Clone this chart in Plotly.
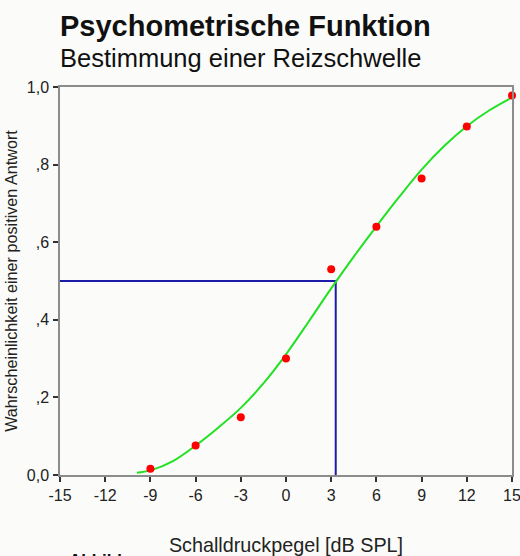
import plotly.graph_objects as go

# Measured data points (Schalldruckpegel in dB SPL vs. probability)
level_db = [-9, -6, -3, 0, 3, 6, 9, 12, 15]
p_response = [0.016, 0.076, 0.149, 0.30, 0.53, 0.64, 0.764, 0.898, 0.978]

# Fitted psychometric curve
curve_x = [-9.9, -9.0, -7.5, -6.0, -4.5, -3.0, -1.5, 0.0, 1.5, 3.0, 4.5, 6.0, 7.5, 9.0, 10.5, 12.0, 13.5, 15.0]
curve_y = [0.006, 0.012, 0.036, 0.076, 0.122, 0.173, 0.236, 0.311, 0.395, 0.481, 0.563, 0.641, 0.716, 0.787, 0.848, 0.899, 0.940, 0.973]

# Threshold (50 % point)
threshold_x = 3.3
threshold_y = 0.5

x_ticks = [-15, -12, -9, -6, -3, 0, 3, 6, 9, 12, 15]
x_tick_labels = ["-15", "-12", "-9", "-6", "-3", "0", "3", "6", "9", "12", "15"]
y_ticks = [0.0, 0.2, 0.4, 0.6, 0.8, 1.0]
y_tick_labels = ["0,0", ",2", ",4", ",6", ",8", "1,0"]

FONT = "Liberation Sans, Arial, sans-serif"
BG = "#fbfcf9"

fig = go.Figure()

# threshold lines
fig.add_trace(go.Scatter(
    x=[x_ticks[0], threshold_x, threshold_x], y=[threshold_y, threshold_y, 0],
    mode="lines", line=dict(color="#1c1ca8", width=2), hoverinfo="skip", showlegend=False))

# fitted curve
fig.add_trace(go.Scatter(
    x=curve_x, y=curve_y, mode="lines",
    line=dict(color="#22e022", width=2, shape="spline", smoothing=1.0),
    showlegend=False))

# data points
fig.add_trace(go.Scatter(
    x=level_db, y=p_response, mode="markers",
    marker=dict(color="#ff0000", size=8), cliponaxis=False, showlegend=False))

axis_common = dict(
    showline=True, linecolor="#8c8c8c", linewidth=1.5, mirror=True,
    ticks="outside", ticklen=5, tickcolor="#333333", tickwidth=1.5,
    showgrid=False, zeroline=False, automargin=False, ticklabeloverflow="allow",
    tickfont=dict(family=FONT, size=16, color="#222222"),
)

fig.update_layout(
    width=520, height=556,
    margin=dict(l=60, r=8, t=87, b=81),
    paper_bgcolor=BG, plot_bgcolor=BG,
    xaxis=dict(range=[-15, 15], tickvals=x_ticks, ticktext=x_tick_labels,
               title=dict(text="Schalldruckpegel [dB SPL]", standoff=37,
                          font=dict(family=FONT, size=19.8, color="#222222")),
               **axis_common),
    yaxis=dict(range=[0, 1], tickvals=y_ticks, ticktext=y_tick_labels, ticklabelstandoff=1,
               title=dict(text="Wahrscheinlichkeit einer positiven Antwort", standoff=5,
                          font=dict(family=FONT, size=16.2, color="#222222")),
               **axis_common),
    annotations=[
        dict(text="<b>Psychometrische Funktion</b>", xref="paper", yref="paper",
             x=-0.004, y=1.0, xanchor="left", yanchor="bottom", yshift=43, showarrow=False,
             font=dict(family=FONT, size=29, color="#111111")),
        dict(text="Bestimmung einer Reizschwelle", xref="paper", yref="paper",
             x=-0.004, y=1.0, xanchor="left", yanchor="bottom", yshift=13, showarrow=False,
             font=dict(family=FONT, size=25.5, color="#111111")),
        dict(text="<b>Abbildung</b>", xref="paper", yref="paper",
             x=0.015, y=0, xanchor="left", yanchor="top", yshift=-74, showarrow=False,
             font=dict(family=FONT, size=17, color="#111111")),
    ],
)

fig.write_html("out.html")
